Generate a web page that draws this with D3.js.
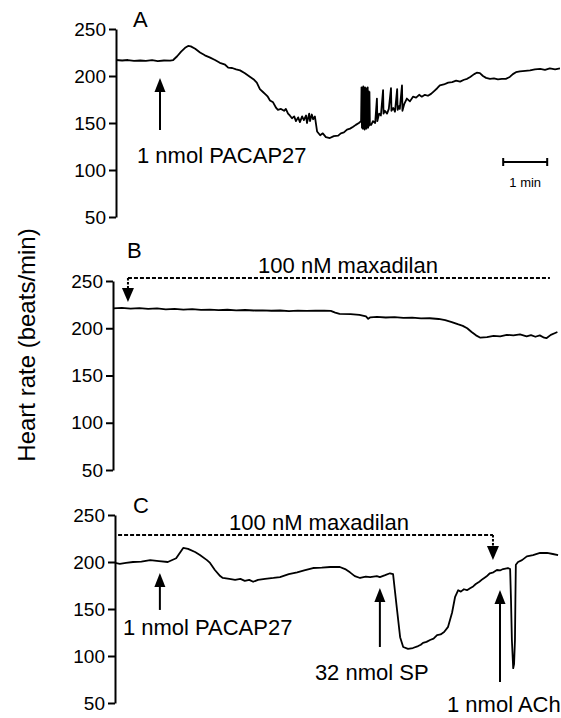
<!DOCTYPE html>
<html>
<head>
<meta charset="utf-8">
<script src="https://cdn.jsdelivr.net/npm/d3@7"></script>
<style>
body { margin: 0; background: #fff; }
text { font-family: "Liberation Sans", Arial, Helvetica, sans-serif; fill: #000; }
</style>
</head>
<body>
<svg id="chart" width="561" height="718"></svg>
<script>

// heart rate traces, [minutes, beats/min]
var traceA = [
[0,217],[0.14,216.5],[0.27,217],[0.41,216],[0.55,216.5],[0.68,216],[0.82,216.8],[0.95,215.8],[1.09,216.5],[1.23,216.3],
[1.30,217],[1.39,221],[1.48,226],[1.57,230],[1.64,232],[1.70,231.5],[1.80,229],[1.91,225],[2.02,222],[2.14,219.5],
[2.25,217],[2.36,214],[2.48,212],[2.55,209],[2.64,208.5],[2.73,207],[2.82,206],[2.93,203],[3.05,199],[3.14,196],
[3.20,193],[3.27,186],[3.34,183],[3.41,180],[3.45,178],[3.50,174],[3.57,172],[3.64,166],[3.68,164],[3.75,165],
[3.82,163],[3.86,165],[3.91,160],[3.95,158],[4.00,155],[4.05,157],[4.09,152],[4.14,156],[4.18,151],[4.23,157],
[4.27,153],[4.32,158],[4.34,150],[4.39,160],[4.41,152],[4.45,159],[4.48,154],[4.52,157],[4.57,141],[4.64,137],
[4.70,139],[4.77,135],[4.86,134],[4.95,136],[5.05,136.5],[5.11,139],[5.18,140],[5.25,143],[5.32,144],[5.39,146],
[5.45,148],[5.52,150],[5.57,152],[5.58,188],[5.59,145],[5.60,187],[5.61,144],[5.62,189],[5.63,146],[5.64,186],
[5.65,143],[5.66,188],[5.67,145],[5.68,187],[5.69,144],[5.70,185],[5.71,146],[5.72,188],[5.73,145],[5.74,184],
[5.75,147],[5.76,183],[5.77,148],[5.80,148],[5.84,152],[5.89,150],[5.93,176],[5.94,152],[5.98,160],[6.02,158],
[6.07,185],[6.08,160],[6.11,163],[6.16,160],[6.20,165],[6.25,187],[6.26,163],[6.30,166],[6.34,162],[6.39,186],
[6.40,164],[6.43,168],[6.45,165],[6.50,190],[6.51,163],[6.55,170],[6.61,176],[6.68,173],[6.75,178],[6.82,177],
[6.89,180],[6.95,178],[7.02,180],[7.09,179],[7.16,181],[7.23,184],[7.30,187],[7.36,190],[7.45,191],[7.55,193],
[7.64,193.5],[7.73,195],[7.82,194],[7.91,196],[7.98,197],[8.05,199],[8.14,202],[8.20,203.5],[8.27,203],[8.34,200],
[8.41,198],[8.50,197],[8.59,197.5],[8.68,196.5],[8.77,197],[8.86,197],[8.95,199],[9.02,202],[9.09,204],[9.18,205],
[9.30,205.5],[9.41,206],[9.52,207],[9.64,207.5],[9.75,206.5],[9.86,208],[9.98,207],[10.09,208]
]

var traceB = [
[0,221],[0.2,221.5],[0.4,220.8],[0.6,221.3],[0.8,220.5],[1.0,221],[1.2,220],[1.4,220.4],[1.6,219.8],[1.8,220.3],
[2.0,219.5],[2.2,219.8],[2.4,219.2],[2.6,219.6],[2.8,219],[3.0,219.3],[3.2,218.8],[3.4,219],[3.6,218.5],[3.8,218.8],
[4.0,218.2],[4.2,218.6],[4.4,218.3],[4.6,218.7],[4.8,218.5],[4.95,218.3],[5.05,216.5],[5.15,215.2],[5.4,215],[5.6,214.2],
[5.75,212.5],[5.8,210],[5.85,211.6],[6.0,212],[6.2,211.4],[6.4,211.8],[6.6,210.9],[6.8,211.2],[7.0,210.4],[7.2,210.6],
[7.4,209.8],[7.55,208.5],[7.7,206.5],[7.85,204],[7.95,202.5],[8.05,200],[8.15,196],[8.25,192.5],[8.35,190],[8.5,190.5],
[8.65,192],[8.8,191.5],[8.95,193],[9.1,192.4],[9.25,193.5],[9.4,191.5],[9.5,192.8],[9.6,191],[9.7,192.5],[9.8,190],
[9.85,189.5],[9.95,193],[10.05,195],[10.1,196]
]

var traceC = [
[0,199],[0.11,198],[0.25,199],[0.41,200],[0.6,200.5],[0.8,202],[1.0,201],[1.20,200],[1.39,204],[1.55,215],
[1.66,214],[1.82,210.6],[1.93,207.4],[2.09,202],[2.16,199],[2.27,191.5],[2.39,185],[2.45,183],[2.6,182],[2.73,181],
[2.85,182],[2.95,180],[3.05,181],[3.14,179],[3.25,181],[3.41,182],[3.6,183],[3.75,184],[3.95,187],[4.14,189],
[4.3,191],[4.50,193.6],[4.7,194],[4.89,194.7],[5.11,194.7],[5.23,192.5],[5.34,189],[5.45,185],[5.57,183],[5.7,184.5],
[5.80,184],[5.95,185],[6.02,184],[6.14,186],[6.25,188],[6.32,187],[6.36,170],[6.41,149],[6.48,120],[6.55,109.6],
[6.66,107.5],[6.77,108.5],[6.89,110.6],[6.95,112],[7.00,114],[7.08,115],[7.16,117],[7.24,118.5],[7.32,122.3],[7.40,123],
[7.48,125.5],[7.57,131],[7.66,146],[7.73,163],[7.80,170],[7.86,168.5],[7.93,171],[8.00,170],[8.07,172],[8.14,174],
[8.20,176.6],[8.28,179],[8.36,182],[8.44,184.5],[8.52,188],[8.60,189],[8.68,191.5],[8.75,191],[8.82,192.5],[8.93,193.6],
[8.98,192.5],[9.00,159.6],[9.02,117],[9.05,87],[9.07,91.5],[9.09,117],[9.10,160],[9.11,197],[9.16,200],[9.25,202],
[9.36,206],[9.50,207.4],[9.66,209.6],[9.82,209.6],[9.95,208.5],[10.07,207.4]
]

var panelNames = ["A", "B", "C"]
var yTicks = [50, 100, 150, 200, 250]

// drug injections: time (min), arrow tip and tail (beats/min), label
var injectionsA = [
{t: 1.0, tip: 198, tail: 142.6, label: "1 nmol PACAP27"}
]
var injectionsC = [
{t: 1.02, tip: 188.3, tail: 149, label: "1 nmol PACAP27"},
{t: 6.02, tip: 172.3, tail: 109.6, label: "32 nmol SP"},
{t: 8.75, tip: 170.2, tail: 72.3, label: "1 nmol ACh"}
]

// maxadilan infusion: start, end of dashed bar, its level and the arrow tip
var infusionB = {t0: 0.34, t1: 9.93, level: 253.2, tip: 227.8, label: "100 nM maxadilan"}
var infusionC = {t0: 0.07, t1: 8.59, level: 228.7, tip: 202, label: "100 nM maxadilan", arrowAt: "end"}

var scaleBar = {t0: 8.8, t1: 9.8, v: 108.5, label: "1 min"}

var svg = d3.select("#chart")

// one layout entry per panel
var panels = [
{name: panelNames[0], data: traceA, left: 116, top: 29, bottom: 217, labelX: 133, labelY: 27},
{name: panelNames[1], data: traceB, left: 113, top: 281, bottom: 470, labelX: 127, labelY: 258},
{name: panelNames[2], data: traceC, left: 115, top: 515, bottom: 703, labelX: 133, labelY: 513}
]

var pxPerMin = 44

// arrow from tail to tip, head drawn at the tip (works up or down)
var drawArrow = function(g, x, yTip, yTail, headW, headH, dotted){
  var dir = yTail > yTip ? 1 : -1
  var base = yTip + dir*headH
  g.append("line")
    .attr("x1", x).attr("x2", x)
    .attr("y1", yTail).attr("y2", base - dir)
    .attr("stroke", "#000")
    .attr("stroke-width", 2)
    .attr("stroke-dasharray", dotted ? "2.5,1.5" : null)
  g.append("path")
    .attr("d", "M" + (x - headW/2) + "," + base + "L" + (x + headW/2) + "," + base + "L" + x + "," + yTip + "Z")
    .attr("fill", "#000")
}

for(var i = 0; i < panels.length; i++){
  var p = panels[i]
  var x = d3.scaleLinear().domain([0, 10]).range([p.left, p.left + pxPerMin*10])
  var y = d3.scaleLinear().domain([50, 250]).range([p.bottom, p.top])
  p.x = x
  p.y = y

  var g = svg.append("g")

  //y axis
  var axis = g.append("g")
    .attr("transform", "translate(" + p.left + ",0)")
    .call(d3.axisLeft(y).tickValues(yTicks).tickSize(7).tickSizeOuter(0).tickPadding(3))
  axis.select(".domain").attr("stroke-width", 2)
  axis.selectAll(".tick line").attr("stroke-width", 2)
  axis.selectAll(".tick text")
    .style("font-size", "19px")
    .style("font-family", '"Liberation Sans", Arial, sans-serif')
    .attr("fill", "#000")

  //trace
  var line = d3.line()
    .x(function(d){ return x(d[0]) })
    .y(function(d){ return y(d[1]) })
  g.append("path")
    .datum(p.data)
    .attr("d", line)
    .attr("fill", "none")
    .attr("stroke", "#000")
    .attr("stroke-width", 1.8)
    .attr("stroke-linejoin", "round")

  //panel letter
  g.append("text")
    .attr("x", p.labelX)
    .attr("y", p.labelY)
    .style("font-size", "22px")
    .text(p.name)
}

// injection arrows with labels; dx/dy place the label relative to the arrow tail
var drawInjections = function(panel, list, labelPos){
  var g = svg.append("g")
  for(var j = 0; j < list.length; j++){
    var d = list[j]
    var ax = panel.x(d.t)
    drawArrow(g, ax, panel.y(d.tip), panel.y(d.tail), 11, 14, false)
    g.append("text")
      .attr("x", ax + labelPos[j][0])
      .attr("y", panel.y(d.tail) + labelPos[j][1])
      .style("font-size", "22px")
      .text(d.label)
  }
}
drawInjections(panels[0], injectionsA, [[-23, 33]])
drawInjections(panels[2], injectionsC, [[-37, 25], [-65, 33], [-53, 30]])

// maxadilan dashed bars
var drawInfusion = function(panel, inf, textX){
  var g = svg.append("g")
  var xa = panel.x(inf.t0), xb = panel.x(inf.t1), yl = panel.y(inf.level)
  g.append("line")
    .attr("x1", xa).attr("x2", xb)
    .attr("y1", yl).attr("y2", yl)
    .attr("stroke", "#000")
    .attr("stroke-width", 2)
    .attr("stroke-dasharray", "4,2")
  var arrowX = inf.arrowAt == "end" ? xb : xa
  drawArrow(g, arrowX, panel.y(inf.tip), yl, 12, 14, true)
  g.append("text")
    .attr("x", textX)
    .attr("y", yl - 5)
    .attr("text-anchor", "middle")
    .style("font-size", "22px")
    .text(inf.label)
}
drawInfusion(panels[1], infusionB, 348)
drawInfusion(panels[2], infusionC, 319)

// time scale bar in panel A
var sb = svg.append("g")
var sx0 = panels[0].x(scaleBar.t0), sx1 = panels[0].x(scaleBar.t1), sy = panels[0].y(scaleBar.v)
sb.append("path")
  .attr("d", "M" + sx0 + "," + (sy - 4) + "V" + (sy + 4) + "M" + sx0 + "," + sy + "H" + sx1 + "M" + sx1 + "," + (sy - 4) + "V" + (sy + 4))
  .attr("fill", "none")
  .attr("stroke", "#000")
  .attr("stroke-width", 2)
sb.append("text")
  .attr("x", (sx0 + sx1)/2)
  .attr("y", sy + 25)
  .attr("text-anchor", "middle")
  .style("font-size", "13px")
  .text(scaleBar.label)

// shared y label
svg.append("text")
  .attr("transform", "translate(35,345) rotate(-90)")
  .attr("text-anchor", "middle")
  .style("font-size", "24px")
  .text("Heart rate (beats/min)")

</script>
</body>
</html>
